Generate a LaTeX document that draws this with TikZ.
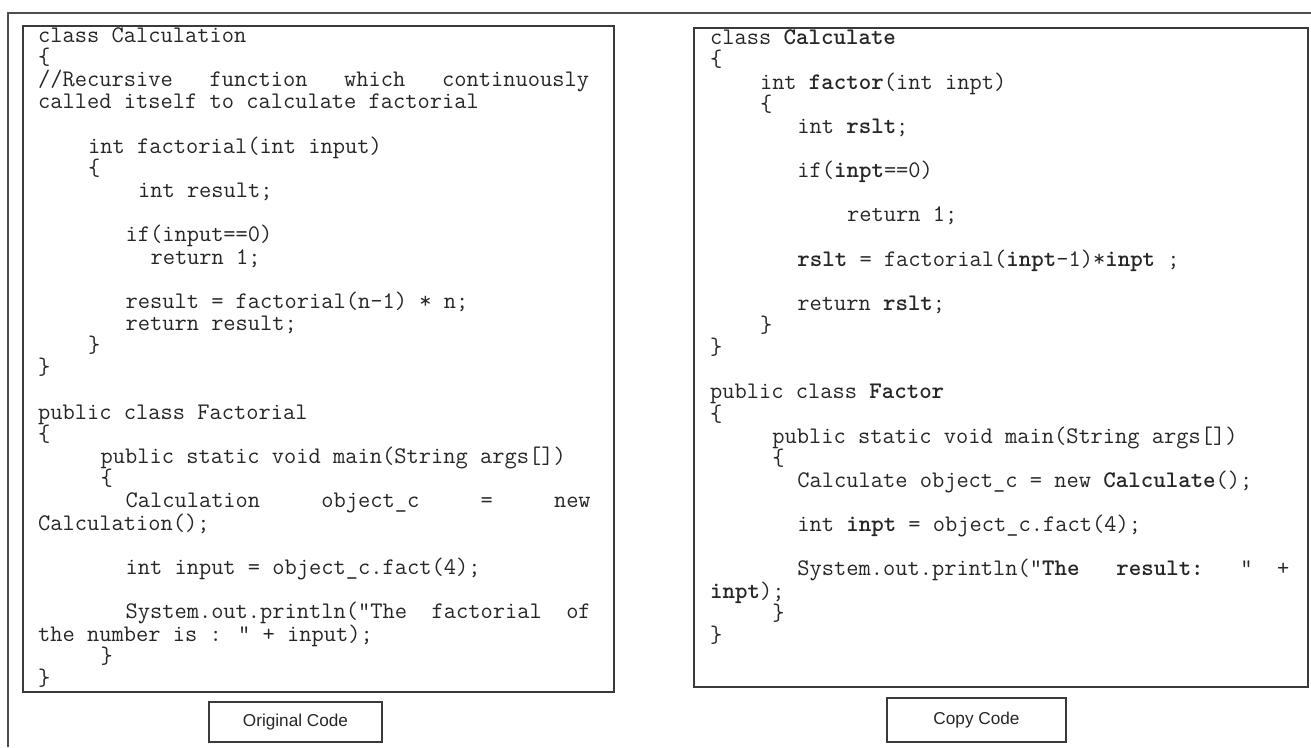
\documentclass[tikz,border=0pt]{standalone}
\usepackage{fontspec}
\setmainfont{Liberation Sans}
\newfontfamily\labelfont{Liberation Sans}

% a gap of n monospace characters inside a line
\newcommand\gap[1]{\hspace*{#1\fontcharwd\font`x}}
% one line of the left listing: name, column, line number, text
\newcommand\lc[4]{\node[codeline] (#1) at ({38+#2*12.48},{42.2+(#3-1)*22.18}) {#4};}
% one line of the right listing: name, column, line number, text
\newcommand\rc[4]{\node[codeline] (#1) at ({710+#2*12.45},{44.8+(#3-1)*22.13}) {#4};}

\definecolor{codeink}{HTML}{262626}
\definecolor{frameink}{HTML}{3A3A3A}

\tikzset{
  codeline/.style={anchor=base west, inner sep=0pt, text=codeink,
    font=\ttfamily\fontsize{23.77}{22}\selectfont},
  listing/.style={draw=frameink, line width=1.7pt},
  outerframe/.style={draw=frameink!90, line width=1.6pt},
  caption/.style={draw=frameink, line width=1.7pt, inner sep=0pt, text=codeink,
    font=\labelfont\fontsize{17.2}{20}\selectfont}
}

\begin{document}
\begin{tikzpicture}[x=1pt, y=-1pt]
\useasboundingbox (0,0) rectangle (1311,747);

% surrounding frame, open to the right and bottom
\draw[outerframe] (8,747) -- (8,13) -- (1311,13);

% listing frames
\draw[listing] (23,26) rectangle (614,692);
\draw[listing] (694,28) rectangle (1308,687);

% ---- original listing ----
\lc{l1}{0}{1}{class Calculation}
\lc{l2}{0}{2}{\{}
\lc{l3}{0}{3}{//Recursive\gap{3}function\gap{3}which\gap{3}continuously}
\lc{l4}{0}{4}{called itself to calculate factorial}
\lc{l6}{4}{6}{int factorial(int input)}
\lc{l7}{4}{7}{\{}
\lc{l8}{8}{8}{int result;}
\lc{l10}{7}{10}{if(input==0)}
\lc{l11}{9}{11}{return 1;}
\lc{l13}{7}{13}{result = factorial(n-1) * n;}
\lc{l14}{7}{14}{return result;}
\lc{l15}{4}{15}{\}}
\lc{l16}{0}{16}{\}}
\lc{l18}{0}{18}{public class Factorial}
\lc{l19}{0}{19}{\{}
\lc{l20}{5}{20}{public static void main(String args[])}
\lc{l21}{5}{21}{\{}
\lc{l22}{7}{22}{Calculation\gap{5}object\_c\gap{5}=\gap{5}new}
\lc{l23}{0}{23}{Calculation();}
\lc{l25}{7}{25}{int input = object\_c.fact(4);}
\lc{l27}{7}{27}{System.out.println("The\gap{2}factorial\gap{2}of}
\lc{l28}{0}{28}{the number is : " + input);}
\lc{l29}{5}{29}{\}}
\lc{l30}{0}{30}{\}}

% ---- copied listing ----
\rc{r1}{0}{1}{class \textbf{Calculate}}
\rc{r2}{0}{2}{\{}
\rc{r3}{4}{3}{int \textbf{factor}(int inpt)}
\rc{r4}{4}{4}{\{}
\rc{r5}{7}{5}{int \textbf{rslt};}
\rc{r7}{7}{7}{if(\textbf{inpt}==0)}
\rc{r9}{11}{9}{return 1;}
\rc{r11}{7}{11}{\textbf{rslt} = factorial(\textbf{inpt}-1)*\textbf{inpt} ;}
\rc{r13}{7}{13}{return \textbf{rslt};}
\rc{r14}{4}{14}{\}}
\rc{r15}{0}{15}{\}}
\rc{r17}{0}{17}{public class \textbf{Factor}}
\rc{r18}{0}{18}{\{}
\rc{r19}{5}{19}{public static void main(String args[])}
\rc{r20}{5}{20}{\{}
\rc{r21}{7}{21}{Calculate object\_c = new \textbf{Calculate}();}
\rc{r23}{7}{23}{int \textbf{inpt} = object\_c.fact(4);}
\rc{r25}{7}{25}{System.out.println("\textbf{The}\gap{3}\textbf{result:}\gap{3}"\gap{2}+}
\rc{r26}{0}{26}{\textbf{inpt});}
\rc{r27}{5}{27}{\}}
\rc{r28}{0}{28}{\}}

% captions
\node[caption, minimum width=173pt, minimum height=40pt] (orig) at (295.5,722) {Original Code};
\node[caption, minimum width=179pt, minimum height=44pt] (copy) at (976.5,720) {Copy Code};
\end{tikzpicture}
\end{document}
